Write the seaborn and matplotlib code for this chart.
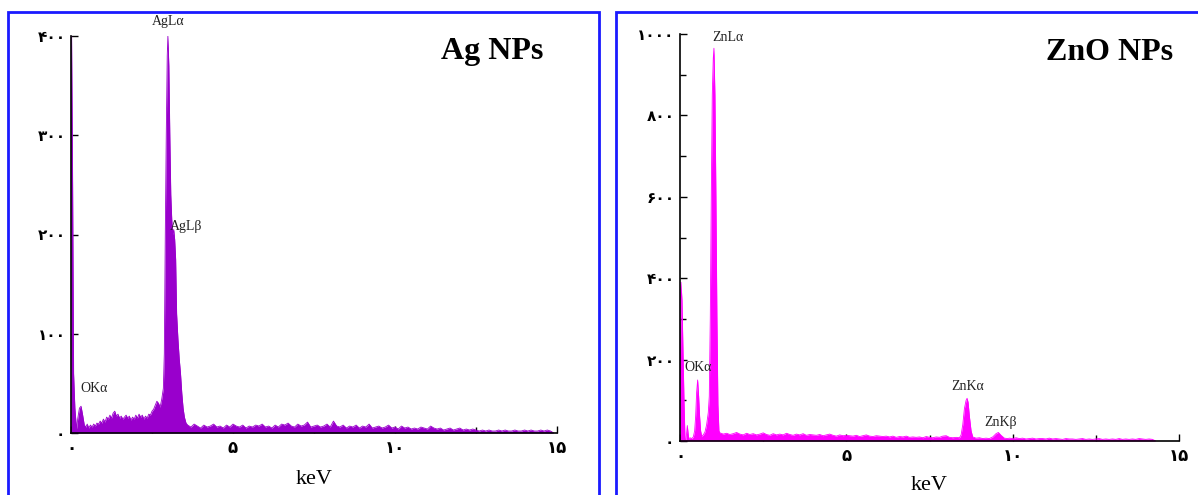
import numpy as np
import pandas as pd
import matplotlib
matplotlib.use("Agg")
import matplotlib.pyplot as plt
from matplotlib.patches import Rectangle
import seaborn as sns

sns.set_theme(style="white")
plt.rcParams['font.family'] = ['DejaVu Sans']
plt.rcParams['text.color'] = 'black'
plt.rcParams['axes.labelcolor'] = 'black'

# ---------------- data ----------------
# Ag NPs spectrum: low-energy + AgL peaks (keV, counts)
ag_peak_energy = [0.00, 0.02, 0.05, 0.08, 0.12, 0.17, 0.21, 0.26, 0.31, 0.36, 0.41, 0.46,
                  0.50, 0.55, 0.60, 0.65, 0.70, 0.75, 0.80, 0.85, 0.90, 0.95, 1.00, 1.05,
                  1.10, 1.15, 1.20, 1.25, 1.30, 1.35, 1.40, 1.45, 1.50, 1.55, 1.60, 1.65,
                  1.70, 1.75, 1.80, 1.85, 1.90, 1.95, 2.00, 2.05, 2.10, 2.15, 2.20, 2.25,
                  2.30, 2.35, 2.40, 2.45, 2.50, 2.55, 2.60, 2.65, 2.70, 2.75, 2.80, 2.85,
                  2.88, 2.91, 2.94, 2.97, 2.99, 3.02, 3.05, 3.08, 3.11, 3.14, 3.17, 3.20,
                  3.23, 3.26, 3.30, 3.34, 3.38, 3.42, 3.46, 3.50, 3.55]
ag_peak_counts = [0, 400, 250, 60, 25, 4, 15, 25, 27, 18, 8, 6,
                  9, 5, 8, 6, 9, 7, 10, 9, 12, 10, 14, 11,
                  16, 14, 18, 15, 20, 22, 17, 19, 15, 17, 14, 16,
                  18, 15, 17, 13, 16, 14, 18, 15, 19, 16, 18, 14,
                  17, 15, 19, 18, 22, 24, 28, 32, 30, 26, 34, 45,
                  80, 200, 300, 380, 400, 370, 300, 240, 215, 200, 205, 195,
                  175, 120, 95, 75, 60, 40, 25, 16, 10]
# Ag background channels from 3.6 keV, 0.1 keV apart
ag_bg_start = 3.6
ag_bg_step = 0.1
ag_bg_counts = [8, 6, 9, 7, 5, 8, 6, 7, 9, 6,
                7, 5, 8, 6, 9, 7, 6, 8, 5, 7,
                6, 8, 7, 9, 6, 7, 5, 8, 6, 9,
                8, 10, 7, 6, 9, 7, 8, 11, 6, 7,
                8, 6, 7, 9, 6, 12, 7, 6, 8, 5,
                7, 6, 8, 5, 7, 6, 9, 5, 6, 7,
                5, 6, 8, 5, 6, 4, 7, 5, 6, 4,
                5, 4, 6, 5, 4, 7, 5, 4, 5, 3,
                4, 5, 3, 4, 5, 3, 4, 3, 4, 3,
                2, 3, 2, 3, 2, 2, 3, 2, 3, 2,
                2, 3, 2, 2, 3, 2, 3, 2, 2, 3,
                2, 3, 2, 0]

# ZnO NPs spectrum
zn_low_energy = [0.00, 0.03, 0.06, 0.09, 0.12, 0.15, 0.18, 0.22, 0.26, 0.30, 0.35, 0.40,
                 0.44, 0.47, 0.50, 0.53, 0.56, 0.59, 0.62, 0.65, 0.70, 0.75, 0.80, 0.85,
                 0.88, 0.91, 0.94, 0.97, 1.00, 1.02, 1.05, 1.08, 1.11, 1.14, 1.17]
zn_low_counts = [0, 390, 345, 220, 100, 5, 3, 38, 5, 8, 6, 10,
                 25, 60, 120, 150, 110, 60, 25, 12, 15, 22, 40, 70,
                 110, 300, 600, 850, 940, 965, 850, 600, 300, 90, 25]
zn_bg1_start = 1.2
zn_bg1_step = 0.1
zn_bg1_counts = [20, 17, 19, 16, 18, 21, 17, 15, 19,
                 16, 18, 15, 17, 20, 16, 14, 18, 15, 17,
                 15, 19, 16, 14, 17, 15, 18, 14, 16, 15,
                 14, 16, 13, 15, 17, 14, 12, 15, 13, 14,
                 13, 12, 14, 11, 13, 15, 12, 11, 13, 12,
                 11, 12, 10, 12, 9, 11, 10, 12, 9, 10,
                 9, 10, 8, 11, 9, 8, 10, 9, 12, 13,
                 9, 8, 9]
zn_k_energy = [8.40, 8.45, 8.50, 8.55, 8.60, 8.63, 8.66, 8.70, 8.75, 8.80, 8.90, 9.00,
               9.10, 9.20, 9.30, 9.40, 9.50, 9.57, 9.65, 9.75, 9.85]
zn_k_counts = [8, 15, 40, 80, 100, 105, 95, 60, 25, 10, 7, 8,
               6, 7, 6, 10, 18, 21, 14, 7, 6]
zn_bg2_start = 9.9
zn_bg2_step = 0.1
zn_bg2_counts = [7, 6, 8, 6, 7, 5, 6, 7, 5, 6,
                 6, 5, 7, 5, 6, 5, 4, 6, 5, 5,
                 4, 5, 6, 4, 5, 4, 5, 6, 4, 5,
                 4, 5, 4, 6, 4, 5, 4, 5, 4, 6,
                 5, 4, 5, 4, 0]

x_ticks = [0, 5, 10, 15]
x_tick_labels = ["۰", "۵", "۱۰", "۱۵"]
ag_y_ticks = [0, 100, 200, 300, 400]
ag_y_labels = ["۰", "۱۰۰", "۲۰۰", "۳۰۰", "۴۰۰"]
zn_y_ticks = [0, 200, 400, 600, 800, 1000]
zn_y_labels = ["۰", "۲۰۰", "۴۰۰", "۶۰۰", "۸۰۰", "۱۰۰۰"]

ag_lines = [("AgLα", 3.0, 408), ("AgLβ", 3.55, 202), ("OKα", 0.7, 38)]
zn_lines = [("ZnLα", 1.45, 975), ("OKα", 0.55, 165), ("ZnKα", 8.65, 118), ("ZnKβ", 9.65, 30)]

# ---------------- assemble ----------------
def grid(start, step, vals):
    return list(start + step * np.arange(len(vals)))

ag_df = pd.DataFrame({
    "keV": ag_peak_energy + grid(ag_bg_start, ag_bg_step, ag_bg_counts),
    "counts": ag_peak_counts + ag_bg_counts})
zn_df = pd.DataFrame({
    "keV": zn_low_energy + grid(zn_bg1_start, zn_bg1_step, zn_bg1_counts)
           + zn_k_energy + grid(zn_bg2_start, zn_bg2_step, zn_bg2_counts),
    "counts": zn_low_counts + zn_bg1_counts + zn_k_counts + zn_bg2_counts})

W, H = 1198, 495
fig = plt.figure(figsize=(W / 100, H / 100), dpi=100)
fig.patch.set_facecolor("white")

ax1 = fig.add_axes([71 / W, 1 - 433 / H, 486 / W, 397 / H])
ax2 = fig.add_axes([680 / W, 1 - 441 / H, 499 / W, 407 / H])

serif = ["Liberation Serif", "DejaVu Serif"]

def draw(ax, df, color, yticks, ylabels, ymax, lines, title, title_x, minor_y, labelpad):
    ax.fill_between(df["keV"], df["counts"], 0, color=color, linewidth=0)
    sns.lineplot(data=df, x="keV", y="counts", ax=ax, color=color, linewidth=0.6)
    ax.set_xlim(0, 15)
    ax.set_ylim(0, ymax)
    ax.set_facecolor("white")
    for s in ["top", "right"]:
        ax.spines[s].set_visible(False)
    for s in ["left", "bottom"]:
        ax.spines[s].set_color("black")
        ax.spines[s].set_linewidth(1.2)
    ax.set_xticks(x_ticks)
    ax.set_xticklabels(x_tick_labels, fontsize=12, fontweight="bold")
    ax.set_xticks([2.5, 7.5, 12.5], minor=True)
    ax.set_yticks(yticks)
    ax.set_yticklabels(ylabels, fontsize=11, fontweight="bold")
    if minor_y:
        ax.set_yticks(minor_y, minor=True)
    ax.tick_params(axis="both", which="major", direction="in", length=5, width=1,
                   color="black", pad=4, labelcolor="black",
                   bottom=True, left=True)
    ax.tick_params(axis="both", which="minor", direction="in", length=4, width=1,
                   color="black", bottom=True, left=True)
    ax.set_xlabel("keV", fontsize=16, family=serif, labelpad=labelpad, color="black")
    ax.set_ylabel("")
    for txt, x, y in lines:
        ax.text(x, y, txt, fontsize=10, family=serif, ha="center", va="bottom",
                clip_on=False, color="#222222")
    fig.text(title_x, 1 - 52 / H, title, fontsize=23, fontweight="bold",
             family=serif, ha="center", va="center", color="black")

draw(ax1, ag_df, "#9900CC", ag_y_ticks, ag_y_labels, 400, ag_lines,
     "Ag NPs", 492 / W, None, 10)
draw(ax2, zn_df, "#FF00FF", zn_y_ticks, zn_y_labels, 1000, zn_lines,
     "ZnO NPs", 1110 / W, [100, 300, 500, 700, 900], 8)

# blue frames
fig.add_artist(Rectangle((8 / W, -0.05), (599 - 8) / W, 1.05 - 12 / H,
                         transform=fig.transFigure, fill=False,
                         edgecolor="#1a1aff", linewidth=2))
fig.add_artist(Rectangle((616 / W, -0.05), 0.6, 1.05 - 12 / H,
                         transform=fig.transFigure, fill=False,
                         edgecolor="#1a1aff", linewidth=2))

fig.savefig("out.png", dpi=100, facecolor="white")
